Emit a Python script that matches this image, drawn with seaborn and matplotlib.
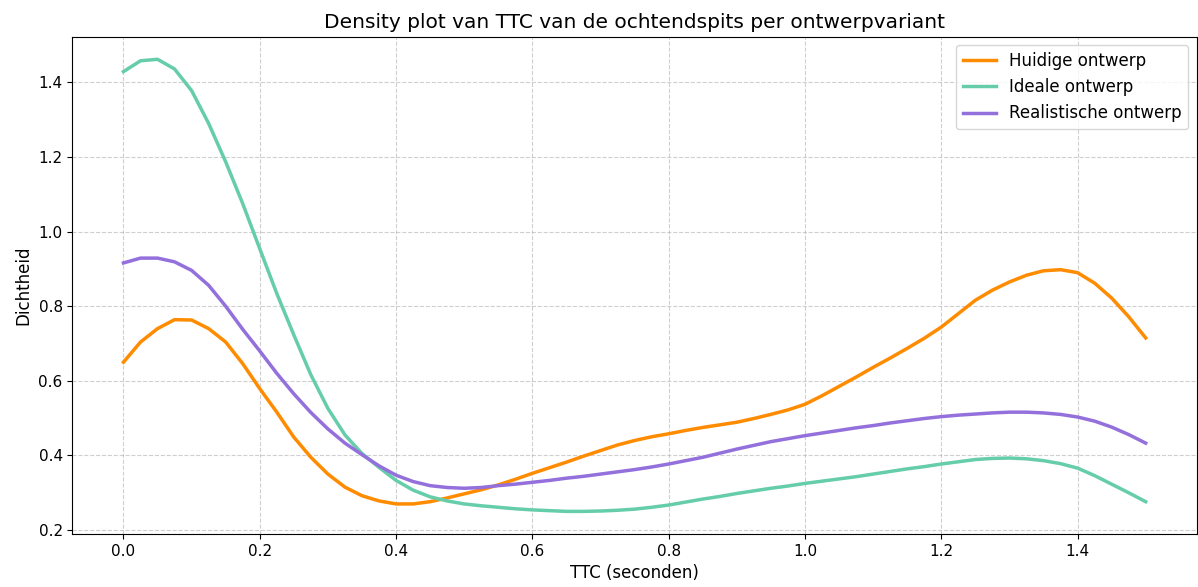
import numpy as np
import pandas as pd
import matplotlib
matplotlib.use("Agg")
import matplotlib.pyplot as plt
import seaborn as sns

# TTC grid (seconds) on which the densities are evaluated, step 0.025
ttc = [0.000, 0.025, 0.050, 0.075, 0.100, 0.125, 0.150, 0.175, 0.200, 0.225,
       0.250, 0.275, 0.300, 0.325, 0.350, 0.375, 0.400, 0.425, 0.450, 0.475,
       0.500, 0.525, 0.550, 0.575, 0.600, 0.625, 0.650, 0.675, 0.700, 0.725,
       0.750, 0.775, 0.800, 0.825, 0.850, 0.875, 0.900, 0.925, 0.950, 0.975,
       1.000, 1.025, 1.050, 1.075, 1.100, 1.125, 1.150, 1.175, 1.200, 1.225,
       1.250, 1.275, 1.300, 1.325, 1.350, 1.375, 1.400, 1.425, 1.450, 1.475,
       1.500]

huidige = [0.650, 0.704, 0.740, 0.764, 0.763, 0.740, 0.704, 0.646, 0.579, 0.516,
           0.449, 0.395, 0.350, 0.315, 0.292, 0.278, 0.270, 0.270, 0.276, 0.286,
           0.297, 0.308, 0.321, 0.336, 0.352, 0.367, 0.382, 0.398, 0.413, 0.428,
           0.440, 0.450, 0.458, 0.467, 0.475, 0.482, 0.489, 0.499, 0.510, 0.522,
           0.537, 0.560, 0.585, 0.610, 0.636, 0.661, 0.687, 0.714, 0.744, 0.780,
           0.816, 0.843, 0.865, 0.883, 0.895, 0.898, 0.890, 0.862, 0.822, 0.772,
           0.715]

ideale = [1.429, 1.458, 1.462, 1.436, 1.378, 1.290, 1.187, 1.075, 0.954, 0.834,
          0.723, 0.616, 0.526, 0.455, 0.405, 0.368, 0.333, 0.307, 0.289, 0.278,
          0.270, 0.265, 0.261, 0.257, 0.254, 0.252, 0.250, 0.250, 0.251, 0.253,
          0.256, 0.261, 0.267, 0.275, 0.283, 0.290, 0.298, 0.305, 0.312, 0.318,
          0.325, 0.331, 0.337, 0.343, 0.350, 0.357, 0.364, 0.370, 0.377, 0.383,
          0.389, 0.392, 0.393, 0.391, 0.386, 0.378, 0.366, 0.346, 0.323, 0.300,
          0.276]

realistische = [0.916, 0.929, 0.929, 0.919, 0.896, 0.856, 0.800, 0.738, 0.680, 0.620,
                0.565, 0.515, 0.471, 0.433, 0.402, 0.372, 0.347, 0.330, 0.319, 0.314,
                0.312, 0.314, 0.319, 0.323, 0.328, 0.333, 0.339, 0.344, 0.350, 0.356,
                0.362, 0.369, 0.377, 0.386, 0.395, 0.406, 0.417, 0.427, 0.437, 0.445,
                0.453, 0.460, 0.467, 0.474, 0.480, 0.487, 0.493, 0.499, 0.504, 0.508,
                0.511, 0.514, 0.516, 0.516, 0.514, 0.510, 0.503, 0.492, 0.476, 0.456,
                0.433]

varianten = ["Huidige ontwerp", "Ideale ontwerp", "Realistische ontwerp"]
kleuren = ["darkorange", "mediumaquamarine", "mediumpurple"]

df = pd.concat([
    pd.DataFrame({"TTC": ttc, "Dichtheid": vals, "Ontwerp": naam})
    for naam, vals in zip(varianten, [huidige, ideale, realistische])
], ignore_index=True)

fig, ax = plt.subplots(figsize=(11.98, 5.87), dpi=100)
fig.subplots_adjust(left=0.0604, right=0.999, top=0.9375, bottom=0.0903)

sns.lineplot(data=df, x="TTC", y="Dichtheid", hue="Ontwerp",
             hue_order=varianten, palette=kleuren, linewidth=2.5, ax=ax)

ax.set_title("Density plot van TTC van de ochtendspits per ontwerpvariant", fontsize=14.5)
ax.set_xlabel("TTC (seconden)", fontsize=12)
ax.set_ylabel("Dichtheid", fontsize=12)
ax.set_xticks(np.arange(0, 1.41, 0.2))
ax.tick_params(labelsize=11)
ax.grid(True, linestyle="--", color="#b0b0b0", alpha=0.6)
ax.legend(title=None, loc="upper right", fontsize=12)

fig.savefig("out.png", dpi=100)
